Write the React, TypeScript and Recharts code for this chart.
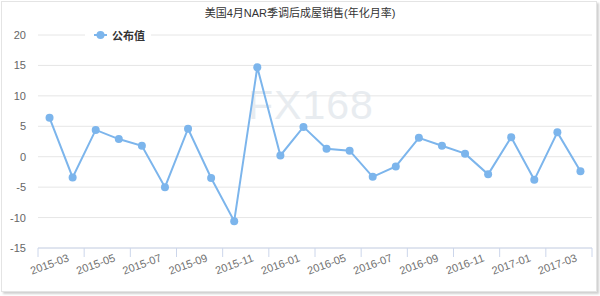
import React from 'react';
import { LineChart, Line, XAxis, YAxis, CartesianGrid, Legend } from 'recharts';

const months = [
  '2015-03', '2015-04', '2015-05', '2015-06', '2015-07', '2015-08', '2015-09', '2015-10',
  '2015-11', '2015-12', '2016-01', '2016-03', '2016-05', '2016-06', '2016-07', '2016-08',
  '2016-09', '2016-10', '2016-11', '2016-12', '2017-01', '2017-02', '2017-03', '2017-04',
];
const published = [
  6.4, -3.4, 4.4, 2.9, 1.8, -5.0, 4.6, -3.5,
  -10.6, 14.7, 0.2, 4.9, 1.3, 1.0, -3.3, -1.6,
  3.1, 1.8, 0.5, -2.9, 3.2, -3.8, 4.0, -2.4,
];
const yTicks = [-15, -10, -5, 0, 5, 10, 15, 20];
const seriesName = '公布值';
const title = '美国4月NAR季调后成屋销售(年化月率)';
const watermark = 'FX168';

const data = months.map((m, i) => ({ month: m, value: published[i] }));

const W = 600;
const H = 296;
const PLOT_LEFT = 38;
const PLOT_RIGHT = 592;
const PLOT_BOTTOM = 248;
const COLOR = '#7cb5ec';
const FONT = '"Lucida Grande", "Liberation Sans", Arial, "Noto Sans CJK SC", sans-serif';

const XTick = (props: any) => {
  const { x, index } = props;
  const bw = (PLOT_RIGHT - PLOT_LEFT) / months.length;
  const even = index % 2 === 0;
  const last = index === months.length - 1;
  return (
    <g>
      {even && (
        <line x1={x - bw / 2} x2={x - bw / 2} y1={PLOT_BOTTOM} y2={PLOT_BOTTOM + 9} stroke="#ccd6eb" strokeWidth={1} />
      )}
      {last && (
        <line x1={x + bw / 2} x2={x + bw / 2} y1={PLOT_BOTTOM} y2={PLOT_BOTTOM + 9} stroke="#ccd6eb" strokeWidth={1} />
      )}
      {even && (
        <text
          x={x}
          y={PLOT_BOTTOM + 16}
          textAnchor="middle"
          dominantBaseline="central"
          transform={`rotate(-20, ${x}, ${PLOT_BOTTOM + 16})`}
          fontSize={11}
          fill="#707070"
          fontFamily={FONT}
        >
          {props.payload.value}
        </text>
      )}
    </g>
  );
};

const YTick = (props: any) => {
  const { y, payload } = props;
  return (
    <text x={26} y={y} textAnchor="end" dominantBaseline="central" fontSize={11} fill="#666" fontFamily={FONT}>
      {payload.value}
    </text>
  );
};

const LegendContent = () => (
  <div
    style={{
      background: '#fff',
      display: 'flex',
      alignItems: 'center',
      height: 16,
      padding: '0 6px 0 9px',
      fontFamily: FONT,
    }}
  >
    <svg width={13} height={10} style={{ marginRight: 5 }}>
      <line x1={0} x2={13} y1={5} y2={5} stroke={COLOR} strokeWidth={2} />
      <circle cx={6.5} cy={5} r={4} fill={COLOR} />
    </svg>
    <span style={{ fontSize: 11, fontWeight: 'bold', color: '#333', whiteSpace: 'nowrap' }}>{seriesName}</span>
  </div>
);

export default function App() {
  return (
    <div style={{ position: 'absolute', left: 0, top: 0, width: W, height: H, background: '#fff' }}>
      <div
        style={{
          position: 'absolute',
          left: 1,
          top: 1,
          width: 594,
          height: 289,
          border: '1px solid #e4e4e4',
          boxShadow: '2px 2px 2px #d0d0d0',
          background: '#fff',
        }}
      />
      <div
        style={{
          position: 'absolute',
          left: 0,
          width: W,
          top: 4,
          textAlign: 'center',
          fontSize: 11,
          color: '#333',
          fontFamily: FONT,
        }}
      >
        {title}
      </div>
      <div
        style={{
          position: 'absolute',
          left: 248,
          top: 82,
          fontSize: 41,
          color: '#e8ecf0',
          fontFamily: '"Liberation Sans", Arial, sans-serif',
          letterSpacing: 1,
        }}
      >
        {watermark}
      </div>
      <div style={{ position: 'absolute', left: 0, top: 0 }}>
        <LineChart width={W} height={H} data={data} margin={{ top: 35, right: W - PLOT_RIGHT, bottom: 0, left: 0 }}>
          <CartesianGrid horizontal vertical={false} stroke="#e6e6e6" />
          <XAxis
            dataKey="month"
            scale="band"
            height={H - PLOT_BOTTOM}
            interval={0}
            tickLine={false}
            axisLine={{ stroke: '#ccd6eb' }}
            tick={<XTick />}
          />
          <YAxis
            width={PLOT_LEFT}
            domain={[-15, 20]}
            ticks={yTicks}
            axisLine={false}
            tickLine={false}
            tick={<YTick />}
            interval={0}
          />
          <Legend
            layout="vertical"
            align="center"
            verticalAlign="middle"
            wrapperStyle={{ position: 'absolute', left: 85, top: 27, width: 'auto' }}
            content={<LegendContent />}
          />
          <Line
            type="linear"
            dataKey="value"
            name={seriesName}
            stroke={COLOR}
            strokeWidth={2}
            dot={{ r: 4, fill: COLOR, stroke: COLOR, strokeWidth: 0 }}
            isAnimationActive={false}
          />
        </LineChart>
      </div>
    </div>
  );
}
